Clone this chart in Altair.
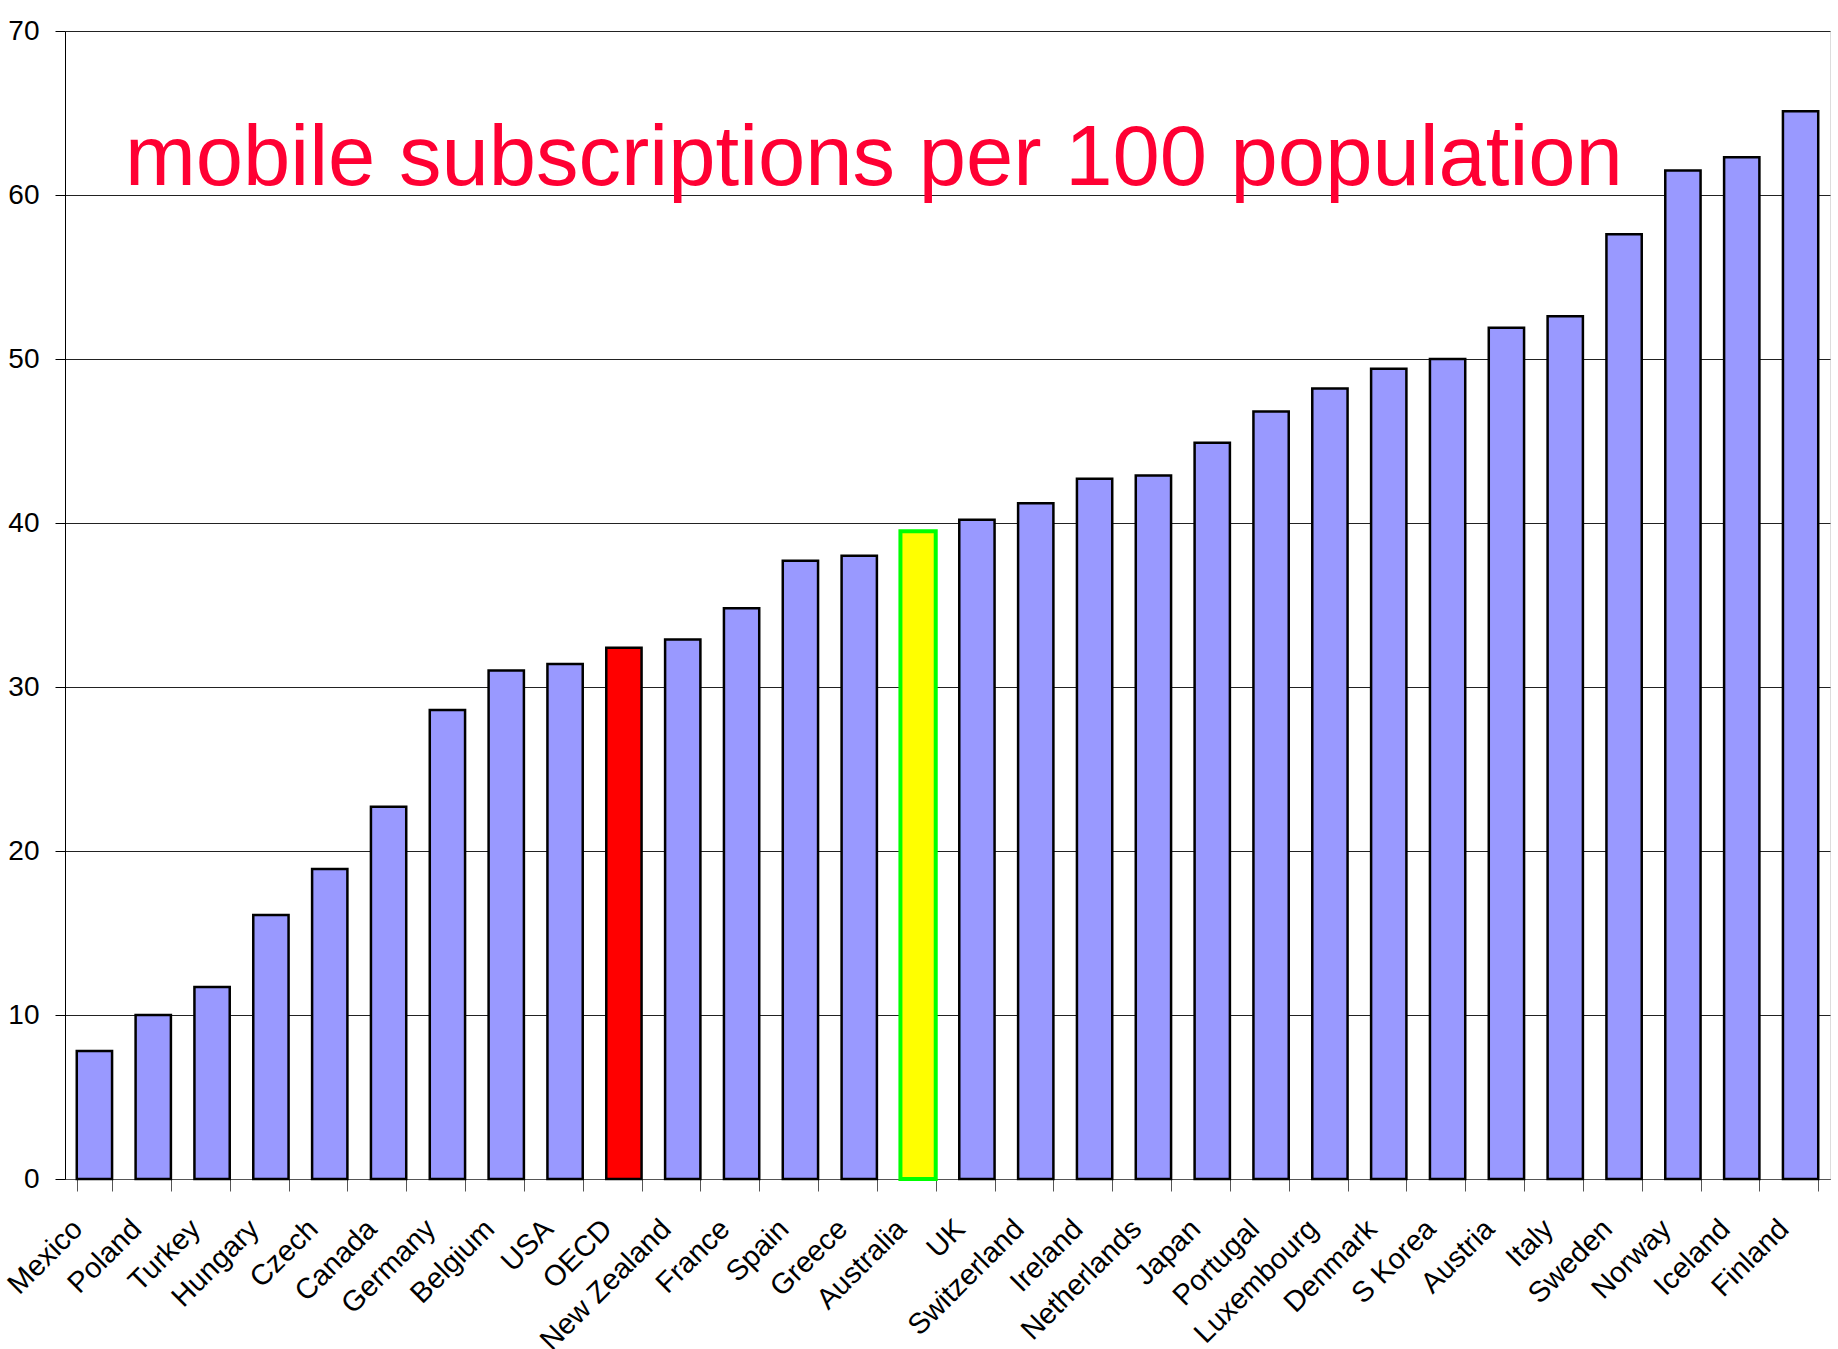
import altair as alt
import pandas as pd

countries = ["Mexico", "Poland", "Turkey", "Hungary", "Czech", "Canada", "Germany",
             "Belgium", "USA", "OECD", "New Zealand", "France", "Spain", "Greece",
             "Australia", "UK", "Switzerland", "Ireland", "Netherlands", "Japan",
             "Portugal", "Luxembourg", "Denmark", "S Korea", "Austria", "Italy",
             "Sweden", "Norway", "Iceland", "Finland"]
values = [7.8, 10.0, 11.7, 16.1, 18.9, 22.7, 28.6, 31.0, 31.4, 32.4, 32.9, 34.8,
          37.7, 38.0, 39.5, 40.2, 41.2, 42.7, 42.9, 44.9, 46.8, 48.2, 49.4, 50.0,
          51.9, 52.6, 57.6, 61.5, 62.3, 65.1]

default_fill = "#9999FF"
default_stroke = "#000000"
highlight_fill = {"OECD": "#FF0000", "Australia": "#FFFF00"}
highlight_stroke = {"Australia": "#00FF00"}
highlight_width = {"Australia": 4.0}

title_text = ["mobile subscriptions per 100 population"]
y_ticks = [0, 10, 20, 30, 40, 50, 60, 70]

df = pd.DataFrame({
    "country": countries,
    "value": values,
    "fill": [highlight_fill.get(c, default_fill) for c in countries],
    "stroke": [highlight_stroke.get(c, default_stroke) for c in countries],
    "sw": [highlight_width.get(c, 2.5) for c in countries],
})

FONT = "Liberation Sans"

bars = alt.Chart(df).mark_bar().encode(
    x=alt.X("country:N", sort=countries,
            scale=alt.Scale(paddingInner=0.4, paddingOuter=0.2),
            axis=alt.Axis(title=None, labelAngle=-45, labelAlign="right",
                          labelBaseline="middle", labelFontSize=29, labelFont=FONT,
                          labelColor="black", tickSize=12, tickBand="extent",
                          labelPadding=33, labelOffset=-17, domainColor="#555555",
                          tickColor="#555555", grid=False, labelLimit=400)),
    y=alt.Y("value:Q", scale=alt.Scale(domain=[0, 70], nice=False),
            axis=alt.Axis(title=None, values=y_ticks, labelFontSize=28, labelFont=FONT,
                          labelColor="black", tickSize=10, labelPadding=16,
                          domainColor="black", tickColor="black", grid=True,
                          gridColor="#222222", gridWidth=1)),
    fill=alt.Fill("fill:N", scale=None),
    stroke=alt.Stroke("stroke:N", scale=None),
    strokeWidth=alt.StrokeWidth("sw:Q", scale=None),
)

title = alt.Chart(pd.DataFrame({"t": title_text})).mark_text(
    align="left", baseline="alphabetic", fontSize=85, font=FONT, color="#FF0033"
).encode(
    x=alt.value(60),
    y=alt.datum(60.6),
    text="t:N",
)

chart = alt.layer(bars, title).properties(
    width=1765, height=1148,
    padding={"left": 65, "top": 31, "right": 8, "bottom": 170},
    autosize=alt.AutoSizeParams(type="none"),
).configure_view(stroke="#888888", strokeWidth=2).configure(background="white")

chart.save("out.html", embed_options={"renderer": "svg", "actions": False})
